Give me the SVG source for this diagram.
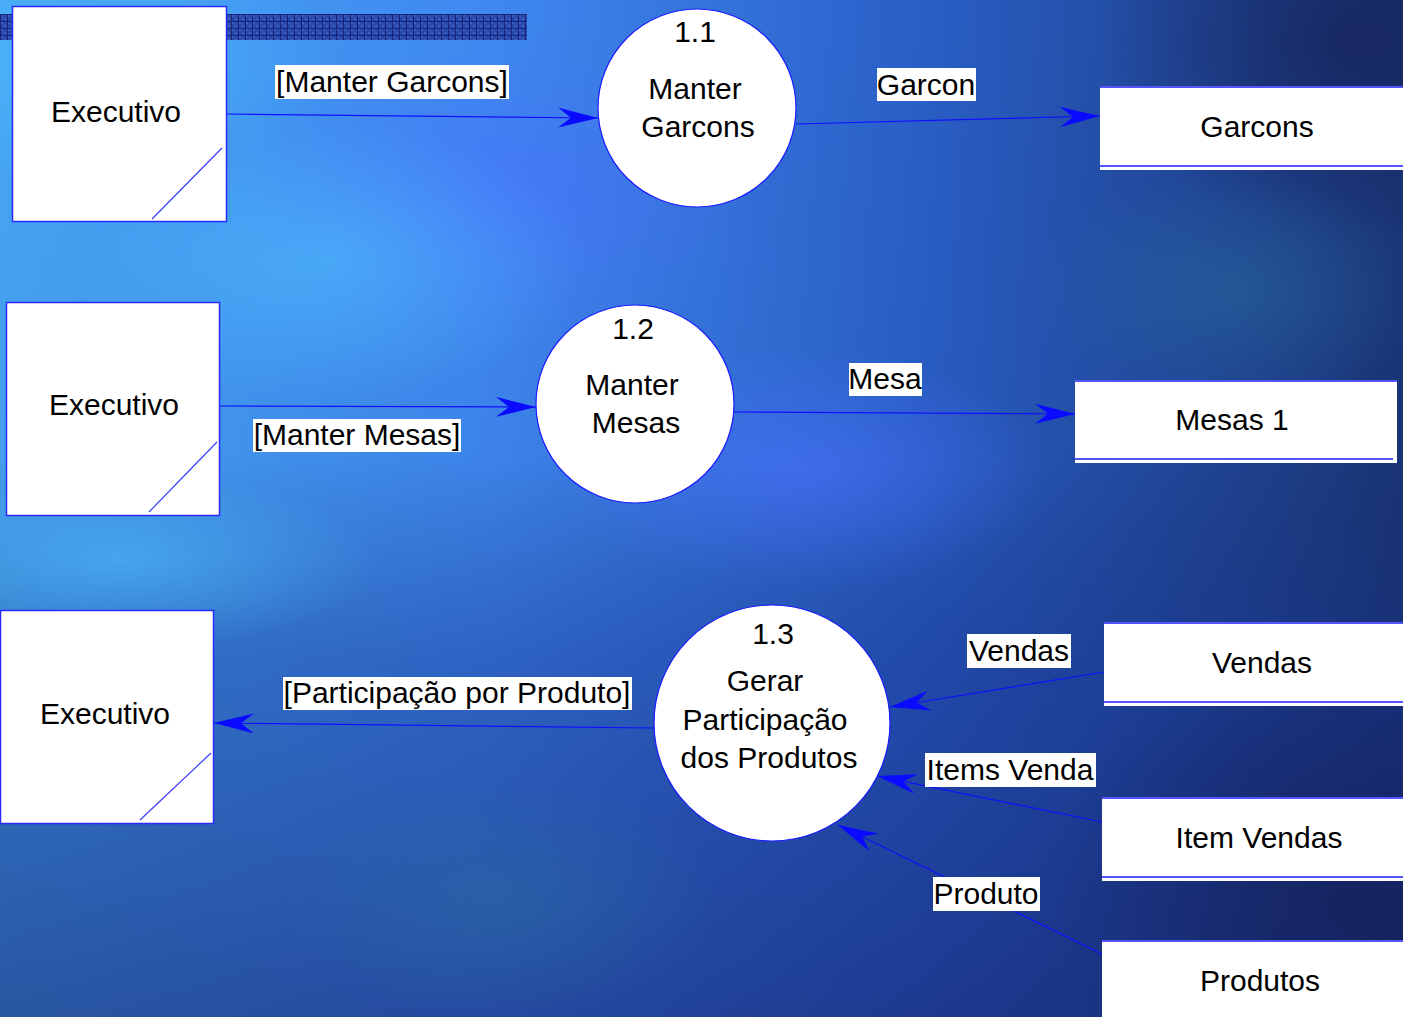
<svg xmlns="http://www.w3.org/2000/svg" width="1403" height="1017" viewBox="0 0 1403 1017">
<defs>
<style>
text{font-family:"Liberation Sans",Arial,sans-serif;font-size:30px;fill:#000;text-anchor:middle}
.ext{fill:#fff;stroke:#2a2aff;stroke-width:1.5}
.diag{stroke:#3a3aff;stroke-width:1.2}
.proc{fill:#fff;stroke:#1a1aff;stroke-width:1.2}
.store{fill:#fff}
.sline{stroke:#1a1aff;stroke-width:1.5}
.flow{stroke:#1010ff;stroke-width:1.2;fill:none;marker-end:url(#ah)}
.lbl{fill:#fff}
</style>
<marker id="ah" viewBox="-40 -10 40 20" refX="0" refY="0" markerWidth="40" markerHeight="20" markerUnits="userSpaceOnUse" orient="auto">
<path d="M0,0 L-40,-10 L-27,0 L-40,10 Z" fill="#0a0aff"/>
</marker>
<linearGradient id="gx" x1="0" y1="0" x2="1" y2="0">
<stop offset="0" stop-color="#46a6f4"/>
<stop offset="0.35" stop-color="#3f88f0"/>
<stop offset="0.65" stop-color="#2a60c8"/>
<stop offset="1" stop-color="#1a3575"/>
</linearGradient>
<linearGradient id="gy" x1="0" y1="0" x2="0" y2="1">
<stop offset="0" stop-color="#10205a" stop-opacity="0"/>
<stop offset="0.45" stop-color="#10205a" stop-opacity="0.05"/>
<stop offset="0.65" stop-color="#142a80" stop-opacity="0.4"/>
<stop offset="1" stop-color="#14206a" stop-opacity="0.6"/>
</linearGradient>
<radialGradient id="rp" cx="0.5" cy="0.5" r="0.5">
<stop offset="0" stop-color="#4a70ff" stop-opacity="0.6"/>
<stop offset="1" stop-color="#4a70ff" stop-opacity="0"/>
</radialGradient>
<radialGradient id="rl" cx="0.5" cy="0.5" r="0.5">
<stop offset="0" stop-color="#50c0ff" stop-opacity="0.55"/>
<stop offset="1" stop-color="#50c0ff" stop-opacity="0"/>
</radialGradient>
<radialGradient id="rd" cx="0.5" cy="0.5" r="0.5">
<stop offset="0" stop-color="#141c50" stop-opacity="0.6"/>
<stop offset="1" stop-color="#141c50" stop-opacity="0"/>
</radialGradient>
<radialGradient id="rt" cx="0.5" cy="0.5" r="0.5">
<stop offset="0" stop-color="#2a70a0" stop-opacity="0.45"/>
<stop offset="1" stop-color="#2a70a0" stop-opacity="0"/>
</radialGradient>
<pattern id="grid" x="0" y="14" width="7" height="7" patternUnits="userSpaceOnUse">
<rect width="7" height="7" fill="#2a4aac"/>
<rect x="1" y="1" width="2" height="2" fill="#3a5cc4"/>
<rect x="4" y="4" width="2" height="2" fill="#3a5cc4"/>
<path d="M0,0.5 H7 M0.5,0 V7" stroke="#16247a" stroke-width="1"/>
</pattern>
</defs>

<g id="background">
<rect width="1403" height="1017" fill="url(#gx)"/>
<rect width="1403" height="1017" fill="url(#gy)"/>
<ellipse cx="500" cy="200" rx="260" ry="150" fill="url(#rp)"/>
<ellipse cx="330" cy="260" rx="260" ry="140" fill="url(#rl)"/>
<ellipse cx="80" cy="60" rx="260" ry="120" fill="url(#rl)"/>
<ellipse cx="120" cy="560" rx="260" ry="90" fill="url(#rl)"/>
<ellipse cx="1350" cy="40" rx="250" ry="200" fill="url(#rd)"/>
<ellipse cx="1350" cy="900" rx="300" ry="250" fill="url(#rd)"/>
<ellipse cx="1230" cy="290" rx="200" ry="120" fill="url(#rt)"/>
<ellipse cx="500" cy="900" rx="220" ry="120" fill="url(#rt)"/>
<ellipse cx="800" cy="470" rx="250" ry="120" fill="url(#rp)"/>
<rect x="0" y="14" width="527" height="26" fill="url(#grid)"/>
</g>

<g id="connectors">
<line class="flow" x1="227" y1="114" x2="598" y2="118"/>
<line class="flow" x1="796" y1="124" x2="1100" y2="116"/>
<line class="flow" x1="220" y1="406" x2="536" y2="407"/>
<line class="flow" x1="734" y1="412" x2="1075" y2="414"/>
<line class="flow" x1="654" y1="728" x2="214" y2="723"/>
<line class="flow" x1="1104" y1="672" x2="890" y2="707"/>
<line class="flow" x1="1102" y1="822" x2="877" y2="776"/>
<line class="flow" x1="1102" y1="954" x2="838" y2="825"/>
<g id="labels">
<rect class="lbl" x="275" y="65" width="234" height="34"/>
<text x="392" y="92">[Manter Garcons]</text>
<rect class="lbl" x="877" y="68" width="99" height="33"/>
<text x="926" y="95">Garcon</text>
<rect class="lbl" x="253" y="419" width="208" height="33"/>
<text x="357" y="445">[Manter Mesas]</text>
<rect class="lbl" x="849" y="363" width="73" height="33"/>
<text x="885" y="389">Mesa</text>
<rect class="lbl" x="283" y="677" width="349" height="33"/>
<text x="457" y="703">[Participação por Produto]</text>
<rect class="lbl" x="967" y="634" width="104" height="34"/>
<text x="1019" y="661">Vendas</text>
<rect class="lbl" x="925" y="753" width="171" height="34"/>
<text x="1010" y="780">Items Venda</text>
<rect class="lbl" x="933" y="877" width="107" height="34"/>
<text x="986" y="904">Produto</text>
</g>
</g>

<g id="ext1">
<rect class="ext" x="12.5" y="6.5" width="214" height="215"/>
<line class="diag" x1="152" y1="219" x2="222" y2="148"/>
<text x="116" y="122">Executivo</text>
</g>
<g id="ext2">
<rect class="ext" x="6.5" y="302.5" width="213" height="213"/>
<line class="diag" x1="149" y1="512" x2="217" y2="442"/>
<text x="114" y="415">Executivo</text>
</g>
<g id="ext3">
<rect class="ext" x="0.5" y="610.5" width="213" height="213"/>
<line class="diag" x1="140" y1="820" x2="211" y2="753"/>
<text x="105" y="724">Executivo</text>
</g>

<g id="p11">
<circle class="proc" cx="697" cy="108" r="99"/>
<text x="695" y="42">1.1</text>
<text x="695" y="99">Manter</text>
<text x="698" y="137">Garcons</text>
</g>
<g id="p12">
<circle class="proc" cx="635" cy="404" r="99"/>
<text x="633" y="339">1.2</text>
<text x="632" y="395">Manter</text>
<text x="636" y="433">Mesas</text>
</g>
<g id="p13">
<circle class="proc" cx="772" cy="723" r="118"/>
<text x="773" y="644">1.3</text>
<text x="765" y="691">Gerar</text>
<text x="765" y="730">Participação</text>
<text x="769" y="768">dos Produtos</text>
</g>

<g id="ds-garcons">
<rect class="store" x="1100" y="86" width="303" height="84"/>
<line class="sline" x1="1100" y1="87" x2="1403" y2="87"/>
<line class="sline" x1="1100" y1="166" x2="1403" y2="166"/>
<text x="1257" y="137">Garcons</text>
</g>
<g id="ds-mesas">
<rect class="store" x="1075" y="380" width="322" height="83"/>
<line class="sline" x1="1075" y1="381" x2="1397" y2="381"/>
<line class="sline" x1="1075" y1="459" x2="1393" y2="459"/>
<text x="1232" y="430">Mesas 1</text>
</g>
<g id="ds-vendas">
<rect class="store" x="1104" y="622" width="299" height="84"/>
<line class="sline" x1="1104" y1="623" x2="1403" y2="623"/>
<line class="sline" x1="1104" y1="702" x2="1403" y2="702"/>
<text x="1262" y="673">Vendas</text>
</g>
<g id="ds-itemvendas">
<rect class="store" x="1102" y="797" width="301" height="84"/>
<line class="sline" x1="1102" y1="798" x2="1403" y2="798"/>
<line class="sline" x1="1102" y1="877" x2="1403" y2="877"/>
<text x="1259" y="848">Item Vendas</text>
</g>
<g id="ds-produtos">
<rect class="store" x="1102" y="940" width="301" height="77"/>
<line class="sline" x1="1102" y1="941" x2="1403" y2="941"/>
<text x="1260" y="991">Produtos</text>
</g>
</svg>
